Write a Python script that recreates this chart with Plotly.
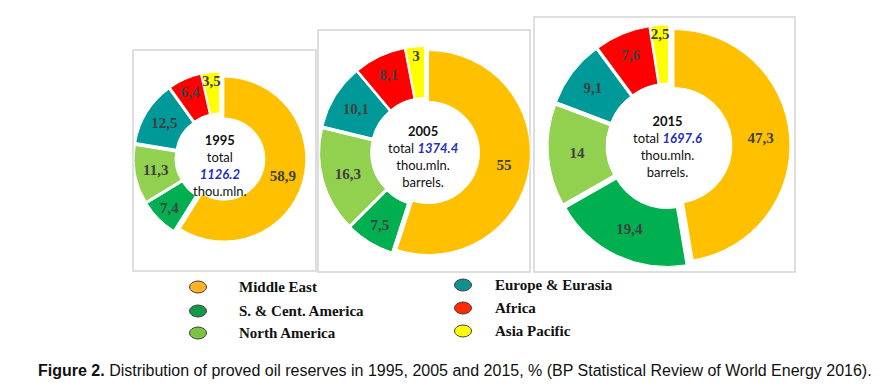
import plotly.graph_objects as go

# ---------------- data ----------------
regions = ["Middle East", "S. & Cent. America", "North America",
           "Europe & Eurasia", "Africa", "Asia Pacific"]
years = ["1995", "2005", "2015"]
totals = ["1126.2", "1374.4", "1697.6"]
share_1995 = [58.9, 7.4, 11.3, 12.5, 6.4, 3.5]
share_2005 = [55, 7.5, 16.3, 10.1, 8.1, 3]
share_2015 = [47.3, 19.4, 14, 9.1, 7.6, 2.5]
slice_colors = ["#FFC000", "#00B050", "#92D050", "#009999", "#FF0000", "#FFFF00"]
legend_colors = ["#FFB025", "#11994A", "#7DC243", "#119090", "#FF2A00", "#FFFF00"]

W, H = 896, 386
def fx(x):
    return x / W
def fy(y):
    return 1 - y / H

# donut geometry (pixels): centre x, centre y, radius, explode offset
donuts = [(220, 158, 82, 4), (425, 152, 102, 3.5), (669, 146, 116, 5)]
boxes = [(133, 50, 316, 271), (318, 30, 530, 272), (534, 17, 795, 272)]

fig = go.Figure()
for vals, (cx, cy, r, d) in zip([share_1995, share_2005, share_2015], donuts):
    pull = d / r
    half = r * (1 + pull)
    fig.add_trace(go.Pie(
        labels=regions, values=vals,
        text=[f"{v:g}".replace(".", ",") for v in vals],
        textinfo="text", textposition="inside",
        insidetextorientation="horizontal",
        textfont=dict(family="Liberation Serif", size=15, color="#404040", weight="bold"),
        hole=0.5, sort=False, direction="clockwise", rotation=0,
        pull=[pull] * len(vals),
        marker=dict(colors=slice_colors, line=dict(color="white", width=1)),
        domain=dict(x=[fx(cx - half), fx(cx + half)], y=[fy(cy + half), fy(cy - half)]),
        showlegend=False, hoverinfo="skip",
    ))

shapes = []
for (x0, y0, x1, y1) in boxes:
    shapes.append(dict(type="rect", xref="paper", yref="paper",
                       x0=fx(x0), x1=fx(x1), y0=fy(y1), y1=fy(y0),
                       line=dict(color="#D4D4D4", width=1.5), layer="below"))

annotations = []
# centre texts (one multi-line block per donut)
centre_pos = [(220, 165), (423, 156), (667, 146)]
for i, (cx, cy) in enumerate(centre_pos):
    tot = f"<b><i><span style='color:#1F2FBF'>{totals[i]}</span></i></b>"
    if i == 0:
        lines = [f"<b>{years[i]}</b>", "total", tot, "thou.mln."]
    else:
        lines = [f"<b>{years[i]}</b>", f"total {tot}", "thou.mln.", "barrels."]
    annotations.append(dict(
        x=fx(cx), y=fy(cy), xref="paper", yref="paper", showarrow=False,
        text="<br>".join(lines), xanchor="center", yanchor="middle", align="center",
        font=dict(family="Lato", size=13, color="#111111")))

# legend
leg_left = [(198, 237), (198, 237), (198, 237), (463, 493), (463, 493), (463, 493)]
leg_y = [287, 311, 333, 285, 308, 331]
for name, col, (mx, tx), y in zip(regions, legend_colors, leg_left, leg_y):
    shapes.append(dict(type="circle", xref="paper", yref="paper",
                       x0=fx(mx - 8.5), x1=fx(mx + 8.5), y0=fy(y + 6), y1=fy(y - 6),
                       fillcolor=col, line=dict(color="#404040", width=1)))
    annotations.append(dict(x=fx(tx), y=fy(y), xref="paper", yref="paper", showarrow=False,
                            text=f"<b>{name}</b>", xanchor="left", yanchor="middle",
                            font=dict(family="Liberation Serif", size=15, color="#111111")))

# caption
annotations.append(dict(
    x=fx(36), y=fy(370), xref="paper", yref="paper", showarrow=False,
    xanchor="left", yanchor="middle",
    text="<b>Figure 2.</b> Distribution of proved oil reserves in 1995, 2005 and 2015, % "
         "(BP Statistical Review of World Energy 2016).",
    font=dict(family="Liberation Sans", size=16, color="#111111")))

fig.update_layout(
    width=W, height=H, margin=dict(l=0, r=0, t=0, b=0),
    paper_bgcolor="white", plot_bgcolor="white",
    shapes=shapes, annotations=annotations,
    uniformtext=dict(mode="show", minsize=15),
)
fig.write_html("out.html", config={"displayModeBar": False},
               post_script="document.body.style.margin='0';document.body.style.overflow='hidden';")
